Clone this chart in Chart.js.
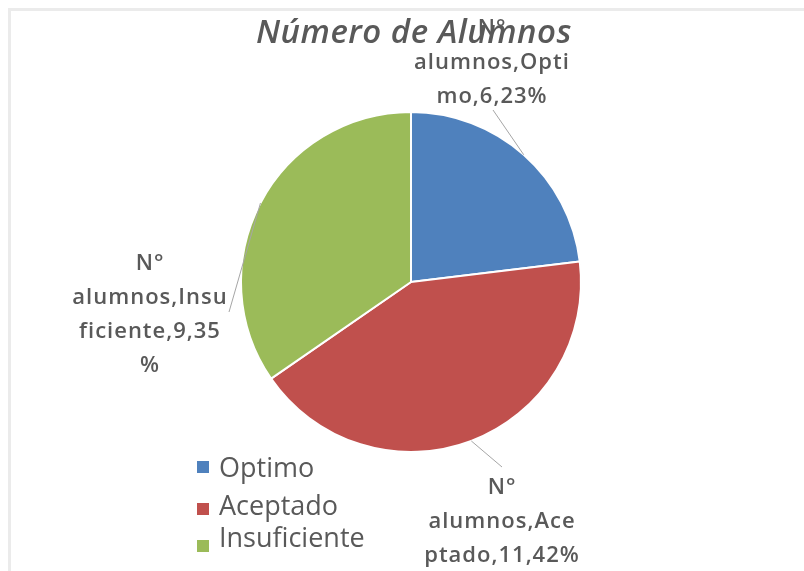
<!DOCTYPE html>
<html>
<head>
<meta charset="utf-8">
<script src="https://cdn.jsdelivr.net/npm/chart.js@4"></script>
<style>
  html, body { margin: 0; padding: 0; background: #fff; }
</style>
</head>
<body>
<canvas id="chart" width="804" height="571"></canvas>
<script>
// Datos
const categories = ['Optimo', 'Aceptado', 'Insuficiente'];
const alumnos = [6, 11, 9];
const seriesName = 'N° alumnos';
const chartTitle = 'Número de Alumnos';
const colors = ['#4f81bd', '#c0504d', '#9bbb59'];

const TEXT = '#595959';

// Posición de las etiquetas (centro x, primera línea base, ancho máximo, inicio de la guía)
const labelBoxes = [
  { x: 492, y: 35, maxW: 168, lineFrom: [493, 110] },
  { x: 502, y: 494, maxW: 158, lineFrom: [502, 467] },
  { x: 150, y: 270, maxW: 160, lineFrom: [229, 312] },
];
const legendSquareY = [461, 503, 540];
const legendTextY = [477, 515, 547];

function wrapText(ctx, text, maxW) {
  const lines = [];
  let cur = '';
  for (const word of text.split(' ')) {
    const test = cur ? cur + ' ' + word : word;
    if (ctx.measureText(test).width <= maxW) {
      cur = test;
      continue;
    }
    if (cur) {
      lines.push(cur);
      cur = '';
    }
    // Excel corta la palabra larga por caracteres
    for (const ch of word) {
      if (cur && ctx.measureText(cur + ch).width > maxW) {
        lines.push(cur);
        cur = ch;
      } else {
        cur += ch;
      }
    }
  }
  if (cur) lines.push(cur);
  return lines;
}

// Marco gris arriba y a la izquierda
const frame = {
  id: 'frame',
  beforeDraw(chart) {
    const c = chart.ctx;
    c.save();
    c.fillStyle = '#fff';
    c.fillRect(0, 0, chart.width, chart.height);
    c.fillStyle = '#ebebeb';
    c.fillRect(8, 8, chart.width - 8, 3);
    c.fillRect(8, 8, 3, chart.height - 8);
    c.restore();
  },
};

// Etiquetas con líneas guía
const pieLabels = {
  id: 'pieLabels',
  afterDatasetsDraw(chart) {
    const c = chart.ctx;
    const arcs = chart.getDatasetMeta(0).data;
    const total = alumnos.reduce((a, b) => a + b, 0);
    c.save();
    arcs.forEach((arc, i) => {
      const box = labelBoxes[i];
      const mid = (arc.startAngle + arc.endAngle) / 2;
      const ex = arc.x + Math.cos(mid) * arc.outerRadius;
      const ey = arc.y + Math.sin(mid) * arc.outerRadius;
      c.strokeStyle = '#a6a6a6';
      c.lineWidth = 1;
      c.beginPath();
      c.moveTo(box.lineFrom[0], box.lineFrom[1]);
      c.lineTo(ex, ey);
      c.stroke();

      const pct = Math.round((alumnos[i] / total) * 100);
      const text = seriesName + ',' + categories[i] + ',' + alumnos[i] + ',' + pct + '%';
      c.font = '600 22px "Open Sans"';
      c.letterSpacing = '1px';
      c.fillStyle = TEXT;
      c.textAlign = 'center';
      c.textBaseline = 'alphabetic';
      wrapText(c, text, box.maxW).forEach((line, k) => {
        c.fillText(line, box.x, box.y + k * 34);
      });
    });
    c.restore();
  },
};

// Título y leyenda
const titleAndLegend = {
  id: 'titleAndLegend',
  afterDraw(chart) {
    const c = chart.ctx;
    c.save();
    c.fillStyle = TEXT;
    c.font = 'italic 600 33px "Open Sans"';
    c.letterSpacing = '0.5px';
    c.textAlign = 'center';
    c.textBaseline = 'alphabetic';
    c.fillText(chartTitle, 414, 43);

    c.letterSpacing = '0px';
    c.textAlign = 'left';
    c.font = '500 27px "Open Sans"';
    categories.forEach((cat, i) => {
      c.fillStyle = colors[i];
      c.fillRect(197, legendSquareY[i], 12, 12);
      c.fillStyle = TEXT;
      c.fillText(cat, 219, legendTextY[i]);
    });
    c.restore();
  },
};

new Chart(document.getElementById('chart'), {
  type: 'pie',
  data: {
    labels: categories,
    datasets: [
      {
        label: seriesName,
        data: alumnos,
        backgroundColor: colors,
        borderColor: '#ffffff',
        borderWidth: 2,
      },
    ],
  },
  options: {
    responsive: false,
    animation: false,
    layout: { padding: { left: 240, right: 222, top: 111, bottom: 118 } },
    plugins: {
      legend: { display: false },
      title: { display: false },
      tooltip: { enabled: false },
    },
  },
  plugins: [frame, pieLabels, titleAndLegend],
});
</script>
</body>
</html>
